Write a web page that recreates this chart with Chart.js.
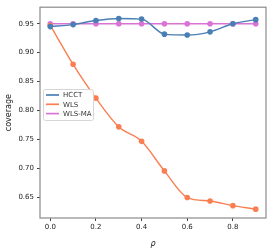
<!DOCTYPE html>
<html><head><meta charset="utf-8">
<script src="https://cdn.jsdelivr.net/npm/chart.js@4"></script>
<style>html,body{margin:0;padding:0;background:#fff}#wrap{width:274px;height:249px}</style>
</head><body><div id="wrap"><canvas id="c" width="274" height="249"></canvas></div>
<script>
const rho = [0.0,0.1,0.2,0.3,0.4,0.5,0.6,0.7,0.8,0.9];
const hcct = [0.945,0.9485,0.9555,0.959,0.958,0.932,0.9305,0.936,0.950,0.957];
const wls = [0.947,0.880,0.8215,0.772,0.747,0.696,0.650,0.644,0.636,0.630];
const wlsma = [0.950,0.950,0.950,0.950,0.950,0.950,0.950,0.950,0.950,0.950];
const xTicks = [0.0,0.2,0.4,0.6,0.8];
const yTicks = [0.65,0.70,0.75,0.80,0.85,0.90,0.95];
const names = ['HCCT','WLS','WLS-MA'];
const colors = ['#4a7fb5','#f97f52','#d973d6'];

const FONT = 'DejaVu Sans';
function ds(label, vals, color){
  return {label, data: rho.map((x,i)=>({x, y: vals[i]})), borderColor: color, backgroundColor: color,
    borderWidth: 1.4, pointRadius: 2.8, pointBorderWidth: 0, tension: 0.4, cubicInterpolationMode:'monotone', fill:false};
}
const frame = {
  id:'frame',
  afterDraw(chart){
    const {ctx, chartArea:a} = chart;
    ctx.save();
    ctx.strokeStyle = '#8a8a8a'; ctx.lineWidth = 1.2;
    ctx.strokeRect(a.left, a.top, a.right-a.left, a.bottom-a.top);
    // legend
    const lx=43, ly=89, lw=50, lh=31;
    ctx.beginPath();
    if (ctx.roundRect) ctx.roundRect(lx+0.5, ly+0.5, lw, lh, 2); else ctx.rect(lx+0.5, ly+0.5, lw, lh);
    ctx.fillStyle='rgba(255,255,255,0.85)'; ctx.fill();
    ctx.strokeStyle='#d6d6d6'; ctx.lineWidth=1; ctx.stroke();
    ctx.font = '7px "'+FONT+'"'; ctx.textBaseline='middle'; ctx.fillStyle='#333';
    chart.data.datasets.forEach((d,i)=>{
      const y = ly + 6 + i*9.3;
      ctx.strokeStyle = d.borderColor; ctx.lineWidth = 1.7;
      ctx.beginPath(); ctx.moveTo(lx+3, y); ctx.lineTo(lx+16, y); ctx.stroke();
      ctx.fillText(d.label, lx+20, y+0.5);
    });
    ctx.restore();
  }
};
new Chart(document.getElementById('c'), {
  type:'line',
  data:{datasets:[ds(names[0],hcct,colors[0]), ds(names[1],wls,colors[1]), ds(names[2],wlsma,colors[2])]},
  options:{
    responsive:false, animation:false, devicePixelRatio:1,
    layout:{padding:{top:5,right:8,left:0,bottom:0}},
    plugins:{legend:{display:false}, tooltip:{enabled:false}},
    scales:{
      x:{type:'linear', min:-0.045, max:0.945,
        afterBuildTicks(s){ s.ticks = xTicks.map(v=>({value:v})); },
        afterFit(s){ s.height = 31; },
        grid:{drawOnChartArea:false, drawTicks:true, tickLength:3, color:'#444'},
        border:{display:false},
        ticks:{font:{family:FONT,size:7}, color:'#222', padding:2, maxRotation:0, callback:v=>v.toFixed(1)},
        title:{display:true, text:'ρ', font:{family:FONT,size:8, style:'italic'}, color:'#222', padding:{top:0,bottom:0}}
      },
      y:{type:'linear', min:0.6147, max:0.9785,
        afterBuildTicks(s){ s.ticks = yTicks.map(v=>({value:v})); },
        afterFit(s){ s.width = 40; },
        grid:{drawOnChartArea:false, drawTicks:true, tickLength:3, color:'#444'},
        border:{display:false},
        ticks:{font:{family:FONT,size:7}, color:'#222', padding:3, callback:v=>v.toFixed(2)},
        title:{display:true, text:'coverage', font:{family:FONT,size:8}, color:'#222', padding:{top:4,bottom:0}}
      }
    }
  },
  plugins:[frame]
});
</script></body></html>
